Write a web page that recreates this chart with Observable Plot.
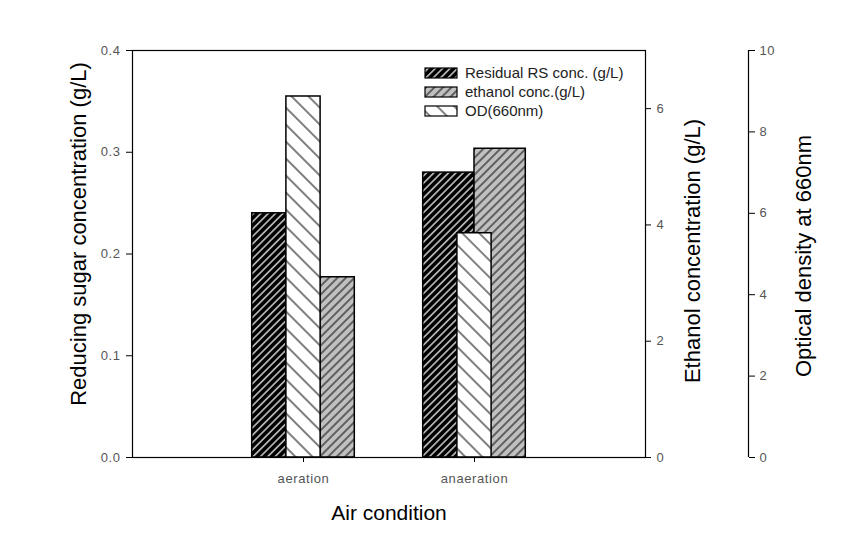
<!DOCTYPE html>
<html><head><meta charset="utf-8">
<script src="https://cdn.jsdelivr.net/npm/d3@7"></script>
<script src="https://cdn.jsdelivr.net/npm/@observablehq/plot@0.6"></script>
<style>
body{margin:0;background:#fff;}
#chart svg [aria-label$="tick label"] text{letter-spacing:0.6px}
</style>
</head><body><div id="chart"></div>
<script>
const categories = ["aeration", "anaeration"];
const seriesNames = ["Residual RS conc. (g/L)", "ethanol conc.(g/L)", "OD(660nm)"];
const rsConc = [0.24, 0.28];
const ethanolConc = [3.10, 5.31];
const od660 = [8.87, 5.51];
const rsTicks = [0, 0.1, 0.2, 0.3, 0.4];
const ethTicks = [0, 2, 4, 6];
const odTicks = [0, 2, 4, 6, 8, 10];
const axisMax = {rs: 0.4, eth: 7, od: 10};
const titles = {
  x: "Air condition",
  rs: "Reducing sugar concentration (g/L)",
  eth: "Ethanol concentration (g/L)",
  od: "Optical density at 660nm"
};

// layout: bar extents relative to each category position (x units)
const barSpan = {
  rs:  [[-0.30, -0.10], [-0.30, 0.00]],
  eth: [[ 0.10,  0.30], [ 0.00, 0.30]],
  od:  [[-0.10,  0.10], [-0.10, 0.10]]
};
const conv = max => v => v / max * axisMax.rs;
const toEth = conv(axisMax.eth), toOd = conv(axisMax.od), toRs = conv(axisMax.rs);
function bars(values, key, f) {
  return values.map((v, i) => ({cat: categories[i], x1: i + 1 + barSpan[key][i][0], x2: i + 1 + barSpan[key][i][1], y: f(v)}));
}
const font = "'Liberation Sans', Arial, sans-serif";
const tickColor = "#555";
const titleOpts = {rotate: -90, fontSize: 22, fill: "black", textAnchor: "middle", lineAnchor: "middle"};

const svg = Plot.plot({
  width: 864, height: 539,
  marginLeft: 132, marginRight: 219, marginTop: 50, marginBottom: 82,
  style: {fontFamily: font, fontSize: "13px", color: "black", background: "white"},
  x: {type: "linear", domain: [0, 3], axis: null},
  y: {domain: [0, axisMax.rs], axis: null},
  marks: [
    Plot.rectY(bars(rsConc, "rs", toRs), {x1: "x1", x2: "x2", y: "y", fill: "url(#pRS)", stroke: "black", strokeWidth: 1.5}),
    Plot.rectY(bars(ethanolConc, "eth", toEth), {x1: "x1", x2: "x2", y: "y", fill: "url(#pEth)", stroke: "black", strokeWidth: 1.5}),
    Plot.rectY(bars(od660, "od", toOd), {x1: "x1", x2: "x2", y: "y", fill: "url(#pOD)", stroke: "black", strokeWidth: 1.5}),
    Plot.frame({stroke: "black", strokeWidth: 1.2}),
    Plot.axisX({ticks: [1, 2], tickFormat: d => categories[d - 1], tickSize: 5, tickPadding: 11, label: null, fill: tickColor, stroke: "black", fontSize: 13}),
    Plot.axisY({anchor: "left", ticks: rsTicks, tickFormat: d3.format(".1f"), tickSize: 6, tickPadding: 6, label: null, fill: tickColor, fontSize: 13}),
    Plot.axisY({anchor: "right", ticks: ethTicks.map(toEth), tickFormat: d => Math.round(d / axisMax.rs * axisMax.eth), tickSize: 5, tickPadding: 6, label: null, fill: tickColor, fontSize: 13}),
    Plot.ruleX([3], {y1: 0, y2: axisMax.rs, dx: 103, stroke: "black", strokeWidth: 1.2}),
    Plot.axisY({anchor: "right", dx: 103, ticks: odTicks.map(toOd), tickFormat: d => Math.round(d / axisMax.rs * axisMax.od), tickSize: 6, tickPadding: 5, label: null, fill: tickColor, fontSize: 13}),
    Plot.text([titles.rs], {frameAnchor: "left", dx: -54, dy: -20, ...titleOpts}),
    Plot.text([titles.eth], {frameAnchor: "right", dx: 47, dy: -3, ...titleOpts}),
    Plot.text([titles.od], {frameAnchor: "right", dx: 158, dy: 2, ...titleOpts}),
    Plot.text([titles.x], {frameAnchor: "bottom", dy: 56, fontSize: 21, fill: "black", textAnchor: "middle", lineAnchor: "middle"})
  ]
});

const s = d3.select(svg);
const defs = s.insert("defs", ":first-child");
function hatch(id, bg, line, lw, period, angle) {
  const p = defs.append("pattern").attr("id", id).attr("patternUnits", "userSpaceOnUse")
    .attr("width", period).attr("height", period).attr("patternTransform", `rotate(${angle})`);
  p.append("rect").attr("width", period).attr("height", period).attr("fill", bg);
  p.append("line").attr("x1", period / 2).attr("x2", period / 2).attr("y1", 0).attr("y2", period)
    .attr("stroke", line).attr("stroke-width", lw);
}
hatch("pRS", "black", "white", 1.2, 5.2, 45);
hatch("pEth", "#c0c0c0", "black", 1, 6, 45);
hatch("pOD", "white", "black", 1, 12, -45);

// legend
const fills = ["url(#pRS)", "url(#pEth)", "url(#pOD)"];
const rowY = [73, 92, 111];
const lg = s.append("g").attr("font-family", font);
seriesNames.forEach((name, i) => {
  lg.append("rect").attr("x", 425).attr("y", rowY[i] - 5).attr("width", 32).attr("height", 10)
    .attr("fill", fills[i]).attr("stroke", "black").attr("stroke-width", 1.2);
  lg.append("text").attr("x", 465).attr("y", rowY[i]).attr("dy", "0.35em").attr("text-anchor", "start")
    .attr("font-size", 15).attr("fill", "#222").text(name);
});

document.getElementById("chart").appendChild(svg);
</script>
</body></html>
